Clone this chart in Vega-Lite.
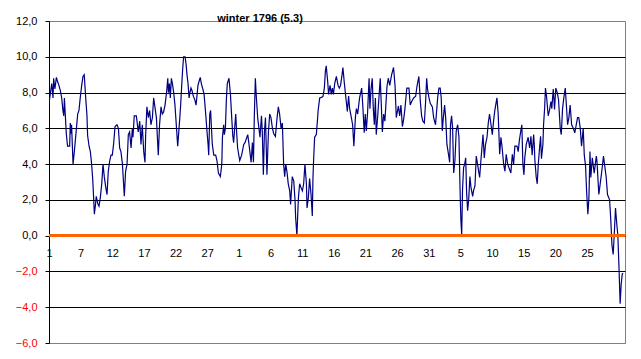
{
  "$schema": "https://vega.github.io/schema/vega-lite/v6.json",
  "autosize": "none",
  "width": 576,
  "height": 322,
  "padding": {"left": 49, "top": 21, "right": 16, "bottom": 16},
  "background": "white",
  "title": {"text": "winter 1796 (5.3)", "font": "Liberation Sans", "fontSize": 11, "fontWeight": "bold", "color": "black", "anchor": "middle", "frame": "group", "dx": -77, "dy": 7, "baseline": "alphabetic", "offset": -11},
  "config": {"view": {"stroke": "#808080", "strokeWidth": 1}},
  "data": {"values": [
    {"obs":0,"temp":7.4},{"obs":1.3,"temp":8.5},{"obs":1.9,"temp":7.7},{"obs":2.2,"temp":8.8},{"obs":2.8,"temp":8.2},{"obs":3.5,"temp":8.85},{"obs":4.1,"temp":8.6},{"obs":4.7,"temp":8.4},{"obs":5.4,"temp":8.1},{"obs":6.0,"temp":7.7},{"obs":6.6,"temp":7.0},{"obs":7.0,"temp":6.7},{"obs":7.3,"temp":7.7},{"obs":7.7,"temp":6.8},{"obs":8.2,"temp":5.7},{"obs":8.8,"temp":5.0},{"obs":9.8,"temp":5.0},{"obs":10.1,"temp":6.3},{"obs":10.4,"temp":5.7},{"obs":10.7,"temp":6.2},{"obs":11.4,"temp":4.0},{"obs":12.0,"temp":4.7},{"obs":13.0,"temp":6.0},{"obs":13.6,"temp":6.8},{"obs":14.2,"temp":7.0},{"obs":14.8,"temp":7.7},{"obs":15.5,"temp":8.4},{"obs":16.1,"temp":8.9},{"obs":16.7,"temp":9.0},{"obs":17.4,"temp":7.7},{"obs":18.0,"temp":6.7},{"obs":18.3,"temp":5.6},{"obs":19.0,"temp":5.0},{"obs":19.6,"temp":4.7},{"obs":20.2,"temp":4.0},{"obs":20.7,"temp":3.2},{"obs":21.2,"temp":2.0},{"obs":21.5,"temp":1.2},{"obs":22.0,"temp":1.7},{"obs":22.4,"temp":2.2},{"obs":23.1,"temp":1.8},{"obs":23.7,"temp":1.65},{"obs":24.3,"temp":2.1},{"obs":25.0,"temp":2.9},{"obs":25.6,"temp":4.0},{"obs":26.2,"temp":3.3},{"obs":26.9,"temp":2.7},{"obs":27.5,"temp":2.3},{"obs":28.1,"temp":3.6},{"obs":28.8,"temp":4.2},{"obs":29.4,"temp":4.5},{"obs":30.0,"temp":4.5},{"obs":30.6,"temp":5.1},{"obs":31.3,"temp":6.1},{"obs":32.2,"temp":6.2},{"obs":32.9,"temp":6.0},{"obs":33.5,"temp":4.9},{"obs":34.1,"temp":4.7},{"obs":34.8,"temp":4.0},{"obs":35.7,"temp":2.2},{"obs":36.3,"temp":3.6},{"obs":37.0,"temp":4.0},{"obs":37.6,"temp":5.65},{"obs":38.2,"temp":5.8},{"obs":38.9,"temp":4.9},{"obs":39.5,"temp":6.0},{"obs":39.8,"temp":5.5},{"obs":40.4,"temp":6.7},{"obs":41.4,"temp":6.7},{"obs":42.3,"temp":5.8},{"obs":43.0,"temp":6.4},{"obs":43.6,"temp":5.1},{"obs":44.2,"temp":6.2},{"obs":44.9,"temp":4.7},{"obs":45.5,"temp":4.1},{"obs":45.8,"temp":5.6},{"obs":46.4,"temp":7.2},{"obs":47.1,"temp":6.6},{"obs":47.7,"temp":7.0},{"obs":48.3,"temp":6.2},{"obs":49.0,"temp":6.6},{"obs":49.6,"temp":7.7},{"obs":50.2,"temp":7.2},{"obs":50.9,"temp":6.6},{"obs":51.5,"temp":5.2},{"obs":51.8,"temp":4.5},{"obs":52.4,"temp":6.2},{"obs":53.1,"temp":7.2},{"obs":53.7,"temp":6.8},{"obs":54.3,"temp":6.9},{"obs":55.0,"temp":7.3},{"obs":55.6,"temp":7.9},
    {"obs":55.8,"temp":8.1},{"obs":56.3,"temp":8.8},{"obs":56.6,"temp":8.0},{"obs":57.1,"temp":8.5},{"obs":57.5,"temp":7.7},{"obs":58.0,"temp":8.8},{"obs":58.5,"temp":8.5},{"obs":59.1,"temp":8.0},{"obs":59.7,"temp":7.3},{"obs":60.1,"temp":6.6},{"obs":60.5,"temp":5.9},{"obs":61.0,"temp":5.0},{"obs":61.5,"temp":5.8},{"obs":62.0,"temp":6.6},{"obs":62.4,"temp":7.3},{"obs":62.9,"temp":8.4},{"obs":63.4,"temp":9.4},{"obs":63.8,"temp":10.0},{"obs":64.5,"temp":10.0},{"obs":65.0,"temp":9.55},{"obs":65.4,"temp":9.0},{"obs":65.9,"temp":8.5},{"obs":66.4,"temp":7.7},{"obs":66.8,"temp":8.0},{"obs":67.3,"temp":8.25},{"obs":67.8,"temp":8.1},{"obs":68.4,"temp":7.8},{"obs":69.1,"temp":7.6},{"obs":69.7,"temp":7.3},{"obs":70.2,"temp":7.9},{"obs":70.6,"temp":8.4},{"obs":71.3,"temp":8.7},{"obs":71.7,"temp":8.85},{"obs":72.2,"temp":8.5},{"obs":72.9,"temp":8.2},{"obs":73.5,"temp":7.9},{"obs":74.0,"temp":7.2},{"obs":74.4,"temp":6.6},{"obs":74.9,"temp":5.8},{"obs":75.4,"temp":5.1},{"obs":75.7,"temp":4.5},{"obs":76.2,"temp":6.8},{"obs":76.6,"temp":7.0},{"obs":77.0,"temp":6.0},{"obs":77.4,"temp":5.1},{"obs":78.1,"temp":4.5},{"obs":79.0,"temp":4.5},{"obs":79.6,"temp":4.2},{"obs":80.3,"temp":3.5},{"obs":81.2,"temp":3.3},{"obs":81.9,"temp":4.0},{"obs":82.2,"temp":5.5},{"obs":82.8,"temp":6.2},{"obs":83.1,"temp":5.65},{"obs":83.6,"temp":6.0},{"obs":84.1,"temp":7.7},{"obs":84.5,"temp":8.5},{"obs":85.3,"temp":8.8},{"obs":86.0,"temp":7.9},{"obs":86.6,"temp":6.6},{"obs":87.1,"temp":5.6},{"obs":87.5,"temp":5.2},{"obs":88.0,"temp":6.0},{"obs":88.5,"temp":6.8},{"obs":89.0,"temp":5.65},{"obs":89.4,"temp":4.9},{"obs":90.4,"temp":4.2},{"obs":91.3,"temp":4.5},{"obs":92.3,"temp":5.1},{"obs":92.9,"temp":5.2},{"obs":94.2,"temp":5.65},{"obs":94.8,"temp":5.1},{"obs":95.8,"temp":4.1},{"obs":96.4,"temp":5.2},{"obs":96.9,"temp":4.1},{"obs":97.3,"temp":6.6},{"obs":97.8,"temp":8.8},{"obs":98.3,"temp":7.7},{"obs":98.9,"temp":6.6},{"obs":99.5,"temp":6.0},{"obs":100.0,"temp":5.5},{"obs":100.7,"temp":6.7},{"obs":101.1,"temp":5.8},{"obs":101.6,"temp":3.4},{"obs":102.1,"temp":5.8},{"obs":102.6,"temp":6.6},{"obs":103.3,"temp":3.4},{"obs":104.0,"temp":5.8},{"obs":104.6,"temp":6.8},{"obs":105.2,"temp":6.6},{"obs":105.9,"temp":6.0},{"obs":106.5,"temp":5.7},{"obs":107.3,"temp":5.55},{"obs":108.1,"temp":6.6},{"obs":108.7,"temp":7.2},{"obs":109.3,"temp":6.8},{"obs":110.0,"temp":6.0},{"obs":110.6,"temp":6.3},{"obs":111.2,"temp":4.0},{"obs":111.7,"temp":3.3},
    {"obs":112.2,"temp":4.0},{"obs":112.8,"temp":3.55},{"obs":113.4,"temp":2.9},{"obs":114.1,"temp":2.5},{"obs":114.5,"temp":1.75},{"obs":115.3,"temp":3.3},{"obs":116.0,"temp":3.05},{"obs":116.6,"temp":2.0},{"obs":116.9,"temp":1.0},{"obs":117.5,"temp":0.0},{"obs":118.2,"temp":2.1},{"obs":118.8,"temp":2.9},{"obs":119.4,"temp":2.7},{"obs":120.1,"temp":2.5},{"obs":120.7,"temp":2.9},{"obs":121.3,"temp":4.0},{"obs":122.0,"temp":2.9},{"obs":122.3,"temp":1.55},{"obs":122.9,"temp":2.1},{"obs":123.5,"temp":3.2},{"obs":124.2,"temp":2.3},{"obs":124.8,"temp":1.1},{"obs":125.1,"temp":3.2},{"obs":125.4,"temp":4.2},{"obs":125.9,"temp":5.5},{"obs":126.7,"temp":5.65},{"obs":127.2,"temp":6.4},{"obs":127.6,"temp":7.05},{"obs":128.3,"temp":7.7},{"obs":129.2,"temp":7.73},{"obs":129.9,"temp":7.8},{"obs":130.5,"temp":8.25},{"obs":131.0,"temp":9.2},{"obs":131.4,"temp":9.5},{"obs":132.1,"temp":8.6},{"obs":132.5,"temp":7.9},{"obs":133.2,"temp":8.4},{"obs":133.8,"temp":7.9},{"obs":134.3,"temp":8.25},{"obs":134.8,"temp":7.9},{"obs":135.4,"temp":8.5},{"obs":136.2,"temp":8.9},{"obs":137.0,"temp":8.4},{"obs":137.6,"temp":8.25},{"obs":138.2,"temp":8.4},{"obs":138.9,"temp":9.0},{"obs":139.3,"temp":9.4},{"obs":140.0,"temp":8.5},{"obs":140.9,"temp":7.5},{"obs":141.4,"temp":6.95},{"obs":142.0,"temp":7.8},{"obs":142.5,"temp":7.1},{"obs":143.3,"temp":6.6},{"obs":143.9,"temp":6.2},{"obs":144.5,"temp":5.0},{"obs":145.2,"temp":6.6},{"obs":145.7,"temp":7.1},{"obs":146.3,"temp":6.8},{"obs":147.2,"temp":7.7},{"obs":148.2,"temp":8.25},{"obs":148.8,"temp":7.1},{"obs":149.4,"temp":5.75},{"obs":149.9,"temp":6.8},{"obs":150.4,"temp":5.85},{"obs":151.0,"temp":6.9},{"obs":151.7,"temp":8.8},{"obs":152.1,"temp":7.1},{"obs":152.6,"temp":8.15},{"obs":153.2,"temp":8.8},{"obs":153.7,"temp":7.1},{"obs":154.2,"temp":6.2},{"obs":154.7,"temp":7.7},{"obs":155.1,"temp":5.65},{"obs":155.8,"temp":6.7},{"obs":157.0,"temp":8.8},{"obs":158.0,"temp":5.8},{"obs":158.6,"temp":6.8},{"obs":159.2,"temp":6.4},{"obs":160.2,"temp":8.35},{"obs":160.8,"temp":8.8},{"obs":161.5,"temp":8.4},{"obs":162.4,"temp":9.0},{"obs":163.3,"temp":9.4},{"obs":164.0,"temp":8.4},{"obs":164.6,"temp":6.6},{"obs":165.6,"temp":7.25},{"obs":166.2,"temp":6.7},{"obs":166.8,"temp":7.3},{"obs":167.5,"temp":6.1},
    {"obs":168.2,"temp":6.6},{"obs":168.7,"temp":7.1},{"obs":169.6,"temp":8.25},{"obs":170.6,"temp":8.25},{"obs":171.2,"temp":7.3},{"obs":171.9,"temp":7.5},{"obs":172.8,"temp":7.7},{"obs":173.8,"temp":7.8},{"obs":174.4,"temp":8.35},{"obs":175.3,"temp":8.9},{"obs":176.0,"temp":7.5},{"obs":176.6,"temp":6.7},{"obs":177.2,"temp":6.4},{"obs":177.9,"temp":6.3},{"obs":178.5,"temp":7.5},{"obs":179.0,"temp":8.8},{"obs":179.4,"temp":8.2},{"obs":180.1,"temp":7.7},{"obs":180.7,"temp":7.4},{"obs":181.7,"temp":7.2},{"obs":182.3,"temp":6.6},{"obs":183.2,"temp":6.2},{"obs":184.2,"temp":7.7},{"obs":184.8,"temp":8.25},{"obs":185.4,"temp":8.25},{"obs":185.9,"temp":7.7},{"obs":186.4,"temp":5.85},{"obs":186.9,"temp":6.6},{"obs":187.5,"temp":7.3},{"obs":188.0,"temp":6.6},{"obs":188.6,"temp":5.1},{"obs":189.4,"temp":4.5},{"obs":189.9,"temp":4.1},{"obs":190.3,"temp":6.2},{"obs":190.8,"temp":6.7},{"obs":191.3,"temp":6.0},{"obs":191.8,"temp":3.5},{"obs":192.4,"temp":4.2},{"obs":193.0,"temp":5.85},{"obs":193.7,"temp":6.2},{"obs":194.3,"temp":5.5},{"obs":194.8,"temp":2.7},{"obs":195.2,"temp":0.9},{"obs":195.6,"temp":0.05},{"obs":196.0,"temp":2.6},{"obs":196.5,"temp":3.8},{"obs":197.0,"temp":4.0},{"obs":197.5,"temp":4.35},{"obs":197.9,"temp":2.5},{"obs":198.4,"temp":1.4},{"obs":198.9,"temp":2.0},{"obs":199.5,"temp":3.3},{"obs":200.0,"temp":2.7},{"obs":200.8,"temp":2.2},{"obs":201.2,"temp":2.5},{"obs":201.9,"temp":2.8},{"obs":202.5,"temp":4.45},{"obs":203.1,"temp":4.0},{"obs":204.1,"temp":3.25},{"obs":204.7,"temp":4.2},{"obs":205.7,"temp":5.65},{"obs":206.3,"temp":4.35},{"obs":206.9,"temp":5.1},{"obs":207.6,"temp":5.5},{"obs":208.2,"temp":6.3},{"obs":208.8,"temp":6.8},{"obs":209.5,"temp":6.2},{"obs":210.1,"temp":5.65},{"obs":210.7,"temp":6.4},{"obs":211.3,"temp":7.0},{"obs":212.3,"temp":7.7},{"obs":212.9,"temp":6.8},{"obs":213.6,"temp":4.55},{"obs":214.2,"temp":5.5},{"obs":214.7,"temp":5.0},{"obs":215.5,"temp":3.98},{"obs":216.1,"temp":3.6},{"obs":216.7,"temp":4.55},{"obs":217.4,"temp":4.0},{"obs":218.9,"temp":3.5},{"obs":219.6,"temp":4.55},{"obs":220.2,"temp":4.0},{"obs":220.8,"temp":5.0},{"obs":221.8,"temp":5.0},{"obs":222.4,"temp":4.7},{"obs":222.9,"temp":5.3},
    {"obs":223.6,"temp":5.85},{"obs":224.1,"temp":6.2},{"obs":224.6,"temp":4.0},{"obs":225.1,"temp":3.4},{"obs":225.5,"temp":4.35},{"obs":226.2,"temp":5.1},{"obs":227.1,"temp":5.5},{"obs":227.8,"temp":4.9},{"obs":228.4,"temp":5.55},{"obs":229.0,"temp":4.5},{"obs":229.7,"temp":5.65},{"obs":230.0,"temp":5.1},{"obs":230.3,"temp":4.2},{"obs":230.9,"temp":3.3},{"obs":231.4,"temp":2.9},{"obs":231.9,"temp":4.0},{"obs":232.5,"temp":4.9},{"obs":233.0,"temp":5.55},{"obs":233.4,"temp":4.3},{"obs":234.1,"temp":5.1},{"obs":234.4,"temp":6.2},{"obs":234.9,"temp":7.1},{"obs":235.3,"temp":8.25},{"obs":235.8,"temp":7.8},{"obs":236.6,"temp":6.7},{"obs":237.2,"temp":7.0},{"obs":237.9,"temp":7.5},{"obs":238.3,"temp":7.1},{"obs":239.0,"temp":8.2},{"obs":239.6,"temp":7.05},{"obs":240.2,"temp":8.25},{"obs":240.9,"temp":8.0},{"obs":241.5,"temp":7.6},{"obs":242.3,"temp":6.0},{"obs":242.8,"temp":5.65},{"obs":243.4,"temp":7.1},{"obs":244.0,"temp":7.7},{"obs":244.7,"temp":8.25},{"obs":245.1,"temp":7.5},{"obs":245.8,"temp":6.2},{"obs":246.4,"temp":6.6},{"obs":247.0,"temp":7.3},{"obs":247.7,"temp":6.2},{"obs":248.5,"temp":6.0},{"obs":249.2,"temp":5.75},{"obs":249.9,"temp":6.2},{"obs":250.5,"temp":6.6},{"obs":251.1,"temp":6.6},{"obs":251.8,"temp":6.0},{"obs":252.4,"temp":5.0},{"obs":253.2,"temp":6.0},{"obs":253.7,"temp":4.5},{"obs":254.3,"temp":3.9},{"obs":254.8,"temp":2.5},{"obs":255.4,"temp":1.2},{"obs":255.9,"temp":2.1},{"obs":256.4,"temp":4.7},{"obs":256.8,"temp":3.25},{"obs":257.5,"temp":4.35},{"obs":258.4,"temp":3.5},{"obs":259.4,"temp":4.45},{"obs":259.7,"temp":4.2},{"obs":260.6,"temp":2.3},{"obs":261.4,"temp":3.05},{"obs":262.0,"temp":3.6},{"obs":262.8,"temp":4.45},{"obs":263.5,"temp":3.8},{"obs":264.1,"temp":3.25},{"obs":264.7,"temp":2.3},{"obs":265.7,"temp":2.0},{"obs":266.3,"temp":0.8},{"obs":266.8,"temp":-0.5},{"obs":267.4,"temp":-1.05},{"obs":267.9,"temp":0.05},{"obs":268.5,"temp":1.55},{"obs":269.1,"temp":0.65},{"obs":269.6,"temp":0.05},{"obs":270.1,"temp":-1.6},{"obs":270.7,"temp":-3.8},{"obs":271.2,"temp":-2.7},{"obs":271.7,"temp":-2.15},{"obs":272.1,"temp":-2.1}
  ]},
  "encoding": {
    "x": {"field": "obs", "type": "quantitative", "scale": {"domain": [0, 273], "nice": false, "zero": false},
      "axis": {"title": null, "values": [0,15,30,45,60,75,90,105,120,135,150,165,180,195,210,225,240,255],
        "labelExpr": "['1','7','12','17','22','27','1','6','11','16','21','26','31','5','10','15','20','25'][round(datum.value/15)]",
        "ticks": false, "domain": false, "grid": false, "offset": -107, "labelPadding": 11,
        "labelFont": "Liberation Sans", "labelFontSize": 11, "labelColor": "black", "labelFlush": false, "labelOverlap": false}},
    "y": {"field": "temp", "type": "quantitative", "scale": {"domain": [-6, 12], "nice": false, "zero": false},
      "axis": {"title": null, "values": [-6,-4,-2,0,2,4,6,8,10,12], "tickCount": 10,
        "labelExpr": "replace(format(datum.value, '.1f'), '.', ',')",
        "labelColor": {"condition": {"test": "datum.value < 0", "value": "#FF0000"}, "value": "black"},
        "grid": true, "gridColor": {"condition": {"test": "datum.value == 12 || datum.value == -6", "value": "#808080"}, "value": "black"},
        "gridOpacity": 1, "gridWidth": 1,
        "domainColor": "black", "domainWidth": 1, "tickColor": "black", "tickSize": 4, "tickWidth": 1,
        "labelPadding": 8, "labelFont": "Liberation Sans", "labelFontSize": 11, "labelOverlap": false, "labelBound": false}}
  },
  "layer": [
    {
      "mark": {"type": "line", "color": "#000080", "strokeWidth": 1.2, "clip": true}
    },
    {
      "mark": {"type": "rule", "color": "#FF6600", "strokeWidth": 2},
      "encoding": {"y": {"datum": 0, "type": "quantitative"}, "x": null}
    }
  ]
}
